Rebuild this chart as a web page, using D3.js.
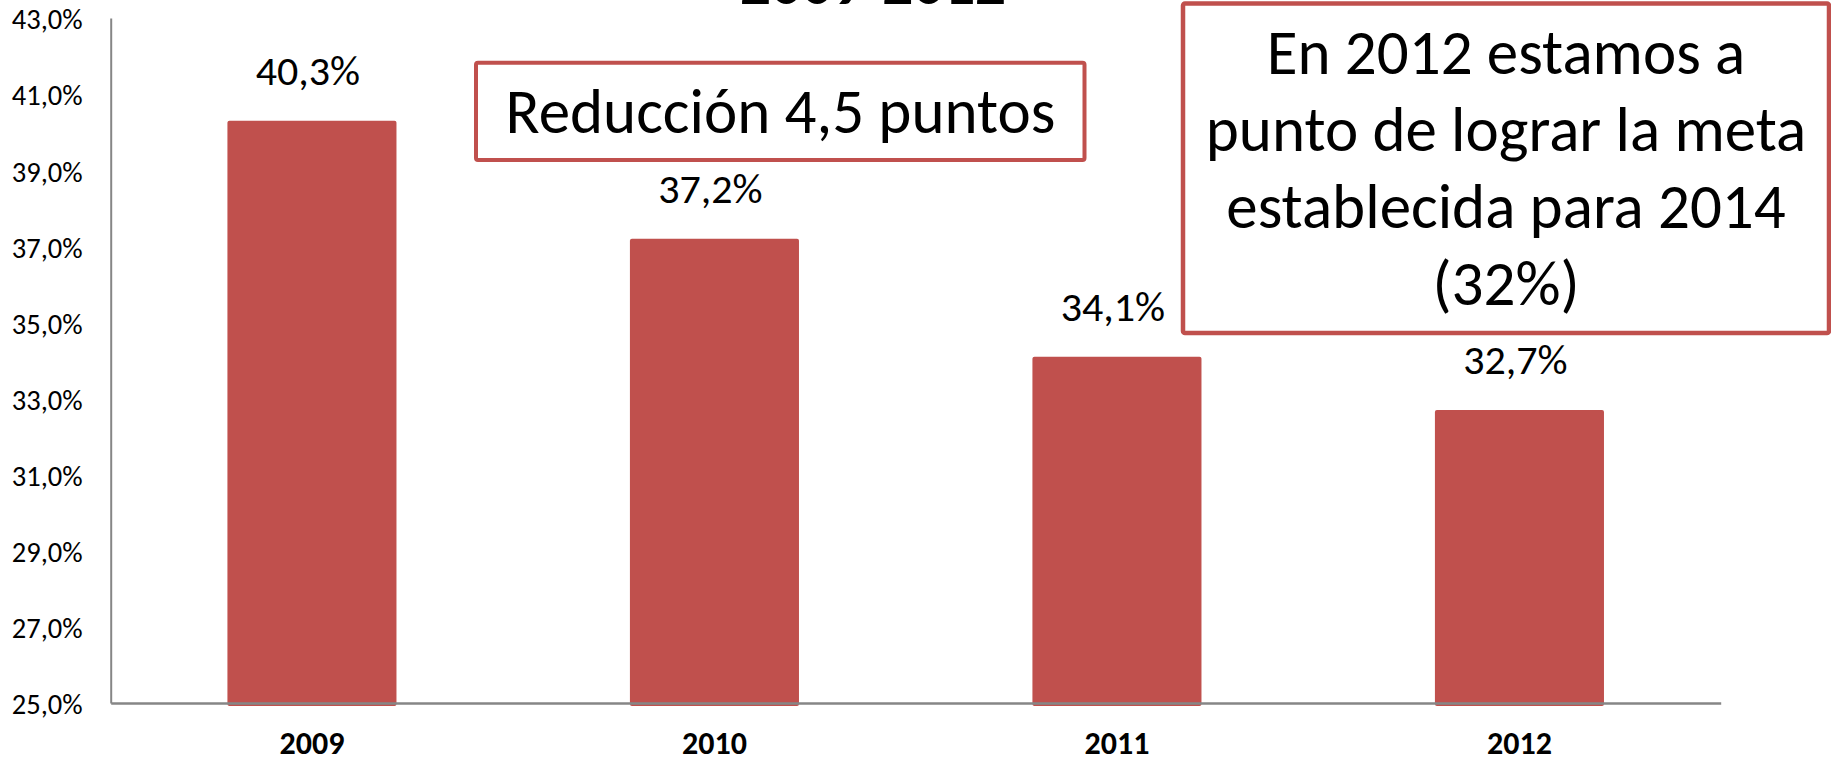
<!DOCTYPE html>
<html>
<head>
<meta charset="utf-8">
<script src="https://cdn.jsdelivr.net/npm/d3@7"></script>
<style>
  html, body { margin: 0; padding: 0; background: #ffffff; }
  svg { display: block; }
  text { font-family: Carlito, Lato, "Open Sans", sans-serif; fill: #000; }
</style>
</head>
<body>
<svg id="chart" width="1831" height="762"></svg>
<script>
// ---- data ----
const categories = ["2009", "2010", "2011", "2012"];
const values = [40.3, 37.2, 34.1, 32.7];
const yTicks = [25, 27, 29, 31, 33, 35, 37, 39, 41, 43];
const titleText = "2009-2012";
const note1Lines = ["Reducción 4,5 puntos"];
const note2Lines = ["En 2012 estamos a", "punto de lograr la meta", "establecida para 2014", "(32%)"];

const fmt = v => d3.format(".1f")(v).replace(".", ",") + "%";

const svg = d3.select("#chart");
const red = "#c0504d";
const fontStack = "Carlito, Lato, 'Open Sans', sans-serif";

const x = d3.scaleBand().domain(categories).range([110.7, 1720.7])
  .paddingInner(0.58).paddingOuter(0.29);
const y = d3.scaleLinear().domain([25, 43]).range([703, 18]);

// title (cut off at top of the picture)
svg.append("text")
  .attr("x", 873).attr("y", 4)
  .attr("text-anchor", "middle")
  .style("font-size", "61px").style("font-weight", "bold")
  .text(titleText);

// bars
svg.append("g").selectAll("rect").data(values).join("rect")
  .attr("x", (d, i) => x(categories[i]))
  .attr("y", d => y(d))
  .attr("width", x.bandwidth())
  .attr("height", d => y(25) - y(d) + 3)
  .attr("rx", 2)
  .attr("fill", red);

// value labels
svg.append("g").selectAll("text").data(values).join("text")
  .attr("x", (d, i) => x(categories[i]) + x.bandwidth() / 2 - 4)
  .attr("y", d => y(d) - 36)
  .attr("text-anchor", "middle")
  .style("font-size", "42px")
  .text(d => fmt(d));

// y axis
const yAxis = d3.axisLeft(y).tickValues(yTicks).tickSize(0).tickPadding(28)
  .tickFormat(d => fmt(d));
const gy = svg.append("g").attr("transform", "translate(110.7,0)").call(yAxis);
gy.select(".domain").attr("stroke", "#868686").attr("stroke-width", 2);
gy.selectAll(".tick text").style("font-size", "28.5px").attr("dy", "0.38em")
  .style("font-family", fontStack).attr("fill", "#000");

// x axis
const xAxis = d3.axisBottom(x).tickSize(0).tickPadding(28);
const gx = svg.append("g").attr("transform", `translate(0,${y(25)})`).call(xAxis);
gx.select(".domain").attr("stroke", "#868686").attr("stroke-width", 2.5);
gx.selectAll(".tick text").style("font-size", "32px").style("font-weight", "bold")
  .style("font-family", fontStack).attr("fill", "#000");

// annotation box 1
const b1 = svg.append("g");
b1.append("rect").attr("x", 476).attr("y", 62.7).attr("width", 608.5).attr("height", 97.3)
  .attr("rx", 2).attr("fill", "#fff").attr("stroke", red).attr("stroke-width", 4);
b1.selectAll("text").data(note1Lines).join("text")
  .attr("x", 780.5).attr("y", (d, i) => 133 + i * 77)
  .attr("text-anchor", "middle").style("font-size", "63px").text(d => d);

// annotation box 2
const b2 = svg.append("g");
b2.append("rect").attr("x", 1183).attr("y", 3.5).attr("width", 646).attr("height", 329.5)
  .attr("rx", 2).attr("fill", "#fff").attr("stroke", red).attr("stroke-width", 4.5);
b2.selectAll("text").data(note2Lines).join("text")
  .attr("x", 1506).attr("y", (d, i) => 74 + i * 77)
  .attr("text-anchor", "middle").style("font-size", "63px").text(d => d);
</script>
</body>
</html>
